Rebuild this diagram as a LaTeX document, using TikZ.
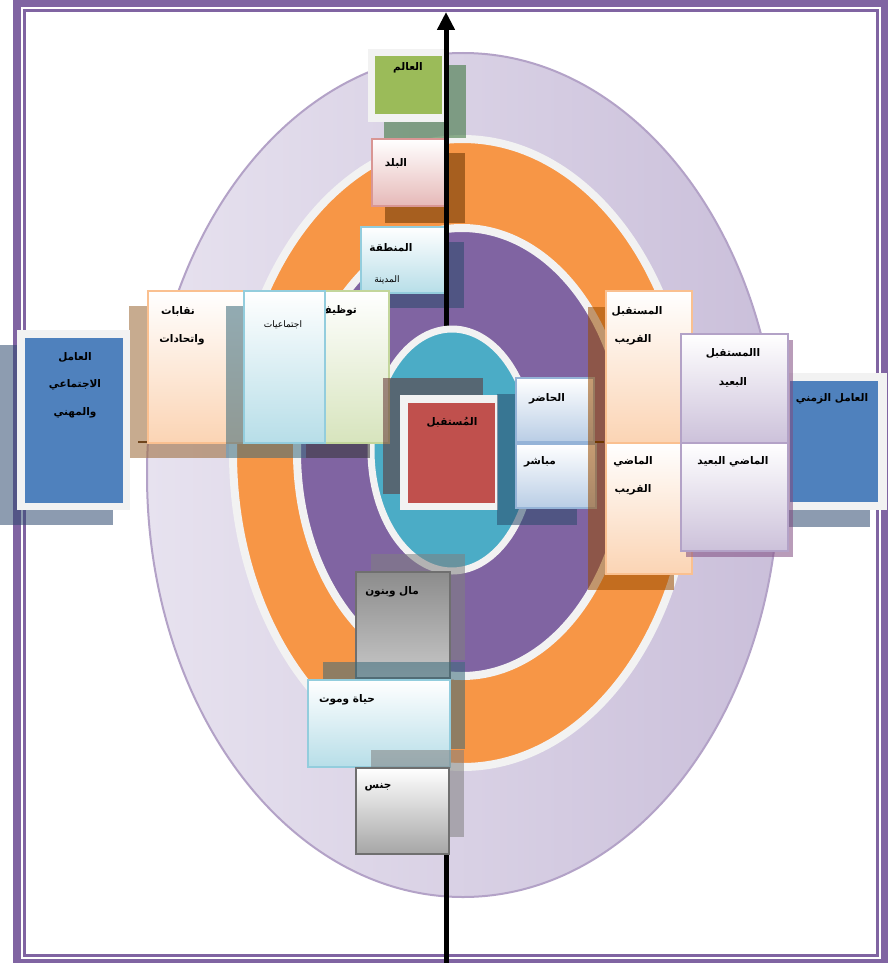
\documentclass[tikz,border=0pt]{standalone}
\usepackage{fontspec}
\newfontfamily\arabicfont[Script=Arabic]{DejaVu Sans}
\TeXXeTstate=1
\usetikzlibrary{arrows.meta}
\newcommand{\artxt}[1]{{\arabicfont\beginR #1\endR}}

\definecolor{framec}{HTML}{8064A2}
\definecolor{lavA}{HTML}{E7E2EF}
\definecolor{lavB}{HTML}{CABFDA}
\definecolor{lavline}{HTML}{B3A2C7}
\definecolor{orng}{HTML}{F79646}
\definecolor{purp}{HTML}{8064A2}
\definecolor{tealc}{HTML}{4BACC6}
\definecolor{ringc}{HTML}{F2F2F2}
\definecolor{grn}{HTML}{9BBB59}
\definecolor{redc}{HTML}{C0504D}
\definecolor{blu}{HTML}{4F81BD}
\definecolor{pinkb}{HTML}{D99694}
\definecolor{pinkf}{HTML}{E6B9B8}
\definecolor{aquab}{HTML}{93CDDD}
\definecolor{aquaf}{HTML}{B7DEE8}
\definecolor{peachb}{HTML}{FAC090}
\definecolor{peachf}{HTML}{FBD4B4}
\definecolor{lgrnb}{HTML}{C3D69B}
\definecolor{lgrnf}{HTML}{D7E4BD}
\definecolor{skyb}{HTML}{95B3D7}
\definecolor{skyf}{HTML}{B9CDE5}
\definecolor{lilb}{HTML}{B3A2C7}
\definecolor{lilf}{HTML}{CCC1DA}
\definecolor{greyb}{HTML}{6F6F6F}
\definecolor{hline}{HTML}{3D1E00}
\definecolor{shslate}{HTML}{2A4A6A}
\definecolor{shblue}{HTML}{2F4A70}
\definecolor{shred}{HTML}{603030}
\definecolor{shaqua}{HTML}{3A6A7A}

\begin{document}
\begin{tikzpicture}[
  x=1pt, y=-1pt,
  shad/.style={fill=#1, fill opacity=0.55, draw=none},
  cell/.style 2 args={rectangle, draw=#1, line width=2pt, inner sep=0pt,
                      anchor=north west, top color=white, bottom color=#2},
  plate/.style={rectangle, fill=#1, draw=none, inner sep=0pt, anchor=north west},
  lbl/.style={font=\fontsize{10.5}{12}\selectfont\bfseries, inner sep=0pt},
  small/.style={font=\fontsize{9}{11}\selectfont, inner sep=0pt}
]
  \useasboundingbox (0,0) rectangle (888,963);
  % frame
  \fill[framec] (13,0) rectangle (888,963);
  \fill[white] (21,7) rectangle (881,959);
  \draw[framec, line width=2.5pt] (24.5,10.5) rectangle (877.5,955.5);

  % rings
  \path[draw=lavline, line width=2pt, left color=lavA, right color=lavB]
    (463,475) ellipse [x radius=316pt, y radius=422pt];
  \draw[ringc, line width=8pt, fill=orng] (462.5,453) ellipse [x radius=229.5pt, y radius=314pt];
  \draw[ringc, line width=8pt, fill=purp] (462,452) ellipse [x radius=165pt, y radius=224pt];

  % place levels
  \fill[shad=black!60!green!60!gray] (384,65) rectangle (466,138);
  \node[plate=ringc, minimum width=76pt, minimum height=73pt] (alamfr) at (368,49) {};
  \node[plate=grn, minimum width=67pt, minimum height=58pt] (alam) at (375,56) {};
  \node[lbl, anchor=north] (t-alam) at ([shift={(33,6)}]alam.north west) {\artxt{العالم}};

  \fill[shad=black!60!orange] (385,153) rectangle (465,223);
  \node[cell={pinkb}{pinkf}, minimum width=74pt, minimum height=67pt] (balad) at (371,138) {};
  \node[lbl] (t-balad) at ([shift={(25,25)}]balad.north west) {\artxt{البلد}};

  \fill[shad=shslate] (376,242) rectangle (464,308);
  \node[cell={aquab}{aquaf}, minimum width=85pt, minimum height=66pt] (mantiqa) at (360,226) {};
  \node[lbl] (t-mantiqa) at ([shift={(31,22)}]mantiqa.north west) {\artxt{المنطقة}};
  \node[small] (t-madina) at ([shift={(27,54)}]mantiqa.north west) {\artxt{المدينة}};

  % axes
  \coordinate (hl-a) at (139,442);
  \coordinate (hl-b) at (603,442);
  \draw[hline, line width=2.5pt, line cap=rect] (hl-a) -- (hl-b);
  \coordinate (ax-bot) at (446,963);
  \coordinate (ax-top) at (446,12);
  \draw[line width=5pt, -{Triangle[length=18pt,width=17pt]}] (ax-bot) -- (ax-top);

  % inner ring
  \draw[ringc, line width=7pt, fill=tealc] (452,450) ellipse [x radius=81pt, y radius=121pt];

  % social and professional factor
  \fill[shad=brown!80!black] (129,306) rectangle (226,458);
  \node[cell={peachb}{peachf}, minimum width=97pt, minimum height=152pt] (nqb) at (147,290) {};
  \node[lbl] (t-nqb1) at ([shift={(31,21)}]nqb.north west) {\artxt{نقابات}};
  \node[lbl] (t-nqb2) at ([shift={(35,50)}]nqb.north west) {\artxt{واتحادات}};

  \fill[shad=black!80] (306,306) rectangle (370,458);
  \node[cell={lgrnb}{lgrnf}, minimum width=64pt, minimum height=152pt] (tawzif) at (324,290) {};
  \node[lbl, anchor=east] (t-tawzif) at ([shift={(33,21)}]tawzif.north west) {\artxt{توظيف}};

  \fill[shad=shaqua] (226,306) rectangle (306,458);
  \node[cell={aquab}{aquaf}, minimum width=81pt, minimum height=152pt] (ijtim) at (243,290) {};
  \node[small] (t-ijtim) at ([shift={(40,35)}]ijtim.north west) {\artxt{اجتماعيات}};

  \fill[shad=shblue] (0,345) rectangle (113,525);
  \node[plate=ringc, minimum width=113pt, minimum height=180pt] (socfr) at (17,330) {};
  \node[plate=blu, minimum width=98pt, minimum height=165pt] (soc) at (25,338) {};
  \node[lbl] (t-soc1) at ([shift={(50,19)}]soc.north west) {\artxt{العامل}};
  \node[lbl] (t-soc2) at ([shift={(50,47)}]soc.north west) {\artxt{الاجتماعي}};
  \node[lbl] (t-soc3) at ([shift={(50,75)}]soc.north west) {\artxt{والمهني}};

  % centre
  \fill[shad=shred] (383,378) rectangle (483,494);
  \node[plate=ringc, minimum width=98pt, minimum height=115pt] (mustfr) at (400,395) {};
  \node[plate=redc, minimum width=87pt, minimum height=100pt] (must) at (408,403) {};
  \node[lbl] (t-must) at ([shift={(44,19)}]must.north west) {\artxt{المُستقبل}};

  \fill[shad=shslate] (497,394) rectangle (577,525);
  \node[cell={skyb}{skyf}, minimum width=78pt, minimum height=64pt] (hadir) at (515,377) {};
  \node[lbl] (t-hadir) at ([shift={(32,22)}]hadir.north west) {\artxt{الحاضر}};
  \node[cell={skyb}{skyf}, minimum width=80pt, minimum height=64pt] (mubashir) at (515,443) {};
  \node[lbl] (t-mubashir) at ([shift={(25,19)}]mubashir.north west) {\artxt{مباشر}};

  % time factor
  \fill[shad=orange!60!black] (588,307) rectangle (674,590);
  \node[cell={peachb}{peachf}, minimum width=86pt, minimum height=152pt] (mqarib) at (605,290) {};
  \node[lbl] (t-mqarib1) at ([shift={(32,21)}]mqarib.north west) {\artxt{المستقبل}};
  \node[lbl] (t-mqarib2) at ([shift={(28,50)}]mqarib.north west) {\artxt{القريب}};
  \node[cell={peachb}{peachf}, minimum width=86pt, minimum height=131pt] (pqarib) at (605,442) {};
  \node[lbl] (t-pqarib1) at ([shift={(28,20)}]pqarib.north west) {\artxt{الماضي}};
  \node[lbl] (t-pqarib2) at ([shift={(28,48)}]pqarib.north west) {\artxt{القريب}};

  \fill[shad=shblue] (773,390) rectangle (870,527);
  \node[plate=ringc, minimum width=105pt, minimum height=137pt] (timefr) at (782,373) {};
  \node[plate=blu, minimum width=88pt, minimum height=121pt] (time) at (790,381) {};
  \node[lbl] (t-time) at ([shift={(42,18)}]time.north west) {\artxt{العامل الزمني}};

  \fill[shad=violet!40!gray] (686,340) rectangle (793,557);
  \node[cell={lilb}{lilf}, minimum width=107pt, minimum height=109pt] (mbaeed) at (680,333) {};
  \node[lbl] (t-mbaeed1) at ([shift={(53,20)}]mbaeed.north west) {\artxt{االمستقبل}};
  \node[lbl] (t-mbaeed2) at ([shift={(53,49)}]mbaeed.north west) {\artxt{البعيد}};
  \node[cell={lilb}{lilf}, minimum width=107pt, minimum height=108pt] (pbaeed) at (680,442) {};
  \node[lbl] (t-pbaeed) at ([shift={(53,20)}]pbaeed.north west) {\artxt{الماضي البعيد}};

  % bottom column
  \fill[shad=black!50] (371,554) rectangle (465,660);
  \node[cell={greyb}{black!22}, top color=black!45, minimum width=94pt, minimum height=106pt] (mal) at (355,571) {};
  \node[lbl] (t-mal) at ([shift={(37,21)}]mal.north west) {\artxt{مال وبنون}};

  \fill[shad=shaqua] (323,662) rectangle (465,749);
  \node[cell={aquab}{aquaf}, minimum width=142pt, minimum height=87pt] (hayat) at (307,679) {};
  \node[lbl] (t-hayat) at ([shift={(40,21)}]hayat.north west) {\artxt{حياة وموت}};

  \fill[shad=black!50] (371,750) rectangle (464,837);
  \node[cell={greyb}{black!35}, minimum width=93pt, minimum height=86pt] (jins) at (355,767) {};
  \node[lbl] (t-jins) at ([shift={(23,20)}]jins.north west) {\artxt{جنس}};
\end{tikzpicture}
\end{document}
